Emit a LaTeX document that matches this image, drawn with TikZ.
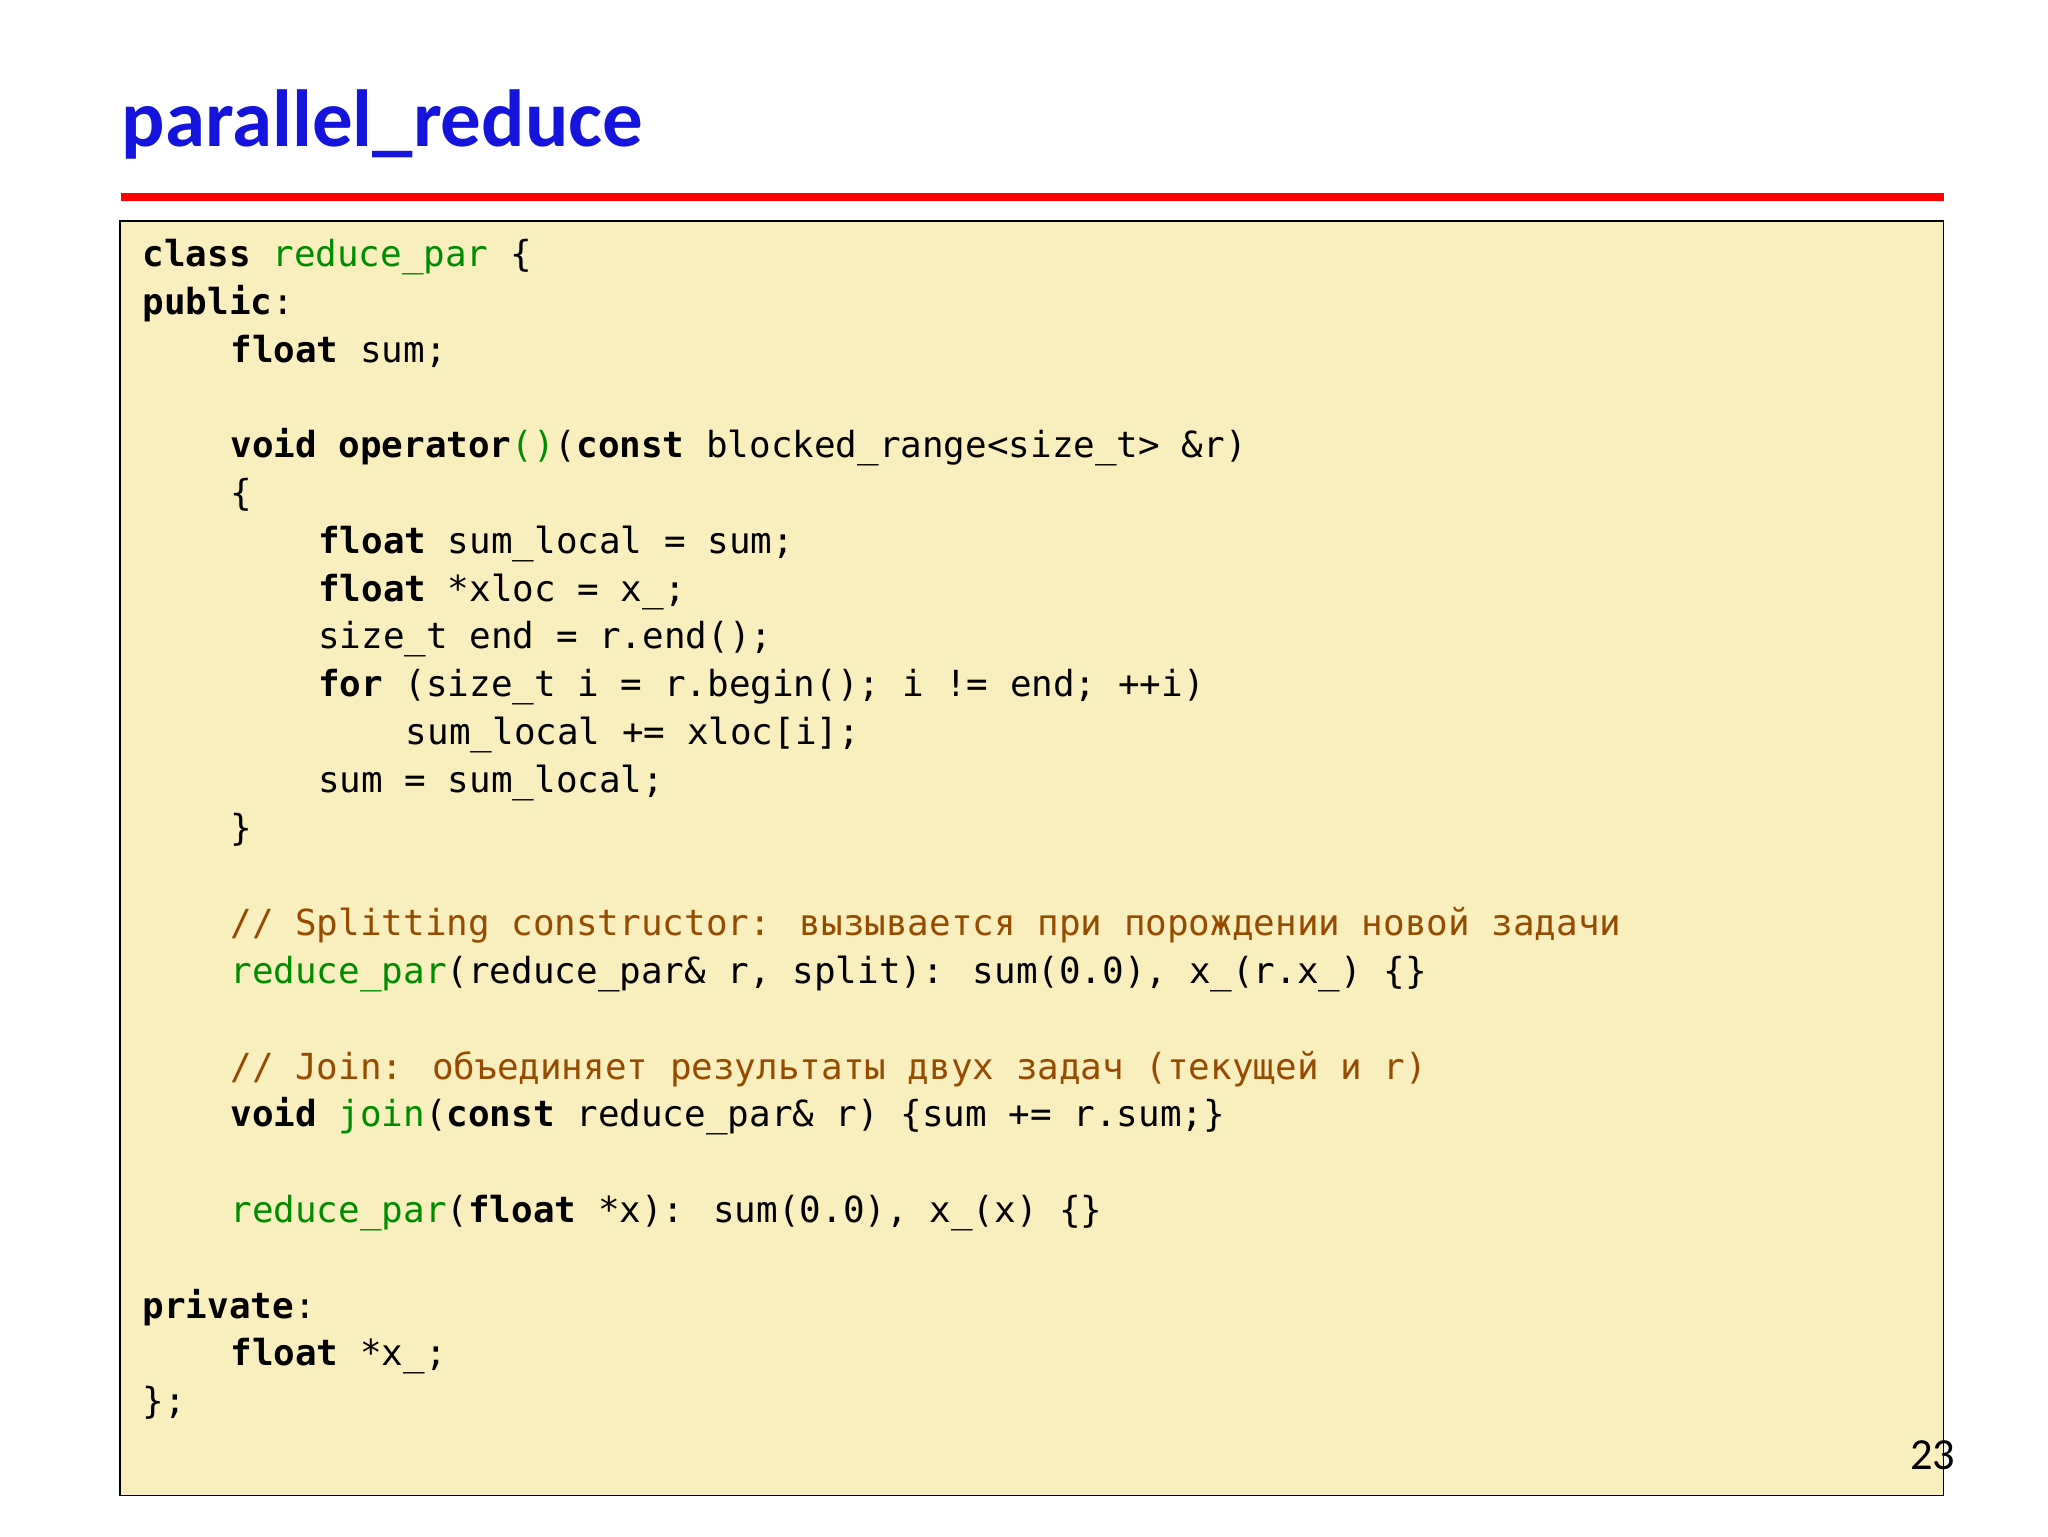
\documentclass[tikz,border=0pt]{standalone}
\usepackage{fontspec}
\setmainfont{Carlito}
\newfontfamily\codefont{DejaVu Sans Mono}
\definecolor{titleblue}{RGB}{20,20,220}
\definecolor{boxfill}{RGB}{248,238,190}
\definecolor{grn}{RGB}{0,140,0}
\definecolor{cmt}{RGB}{150,75,0}
\newcommand\kw[1]{\textbf{#1}}
\newcommand\gr[1]{\textcolor{grn}{#1}}
\newcommand\cm[1]{\textcolor{cmt}{#1}}
\tikzset{code/.style={anchor=base west,inner sep=0,font=\codefont\fontsize{27.5}{30}\selectfont}}
\newcommand\codeline[3]{\node[code] (l#1) at ({109+16.8*#2},{204+36.6*#1}) {#3};}
\begin{document}
\begin{tikzpicture}[x=1pt,y=-1pt]
\useasboundingbox (0,0) rectangle (1568,1176);
\node[anchor=base west,inner sep=0,text=titleblue,font=\bfseries\fontsize{62}{70}\selectfont] (title) at (93,112) {parallel\_reduce};
\fill[red] (93,148) rectangle (1488,154);
\draw[fill=boxfill,line width=1.2] (92,169) rectangle (1488,1145);
\codeline{0}{0}{\kw{class} \gr{reduce\_par} \{}
\codeline{1}{0}{\kw{public}:}
\codeline{2}{4}{\kw{float} sum;}
\codeline{4}{4}{\kw{void} \kw{operator}\gr{()}(\kw{const} blocked\_range<size\_t> \&r)}
\codeline{5}{4}{\{}
\codeline{6}{8}{\kw{float} sum\_local = sum;}
\codeline{7}{8}{\kw{float} *xloc = x\_;}
\codeline{8}{8}{size\_t end = r.end();}
\codeline{9}{8}{\kw{for} (size\_t i = r.begin(); i != end; ++i)}
\codeline{10}{12}{sum\_local += xloc[i];}
\codeline{11}{8}{sum = sum\_local;}
\codeline{12}{4}{\}}
\codeline{14}{4}{\cm{// Splitting constructor: вызывается при порождении новой задачи}}
\codeline{15}{4}{\gr{reduce\_par}(reduce\_par\& r, split): sum(0.0), x\_(r.x\_) \{\}}
\codeline{17}{4}{\cm{// Join: объединяет результаты двух задач (текущей и r)}}
\codeline{18}{4}{\kw{void} \gr{join}(\kw{const} reduce\_par\& r) \{sum += r.sum;\}}
\codeline{20}{4}{\gr{reduce\_par}(\kw{float} *x): sum(0.0), x\_(x) \{\}}
\codeline{22}{0}{\kw{private}:}
\codeline{23}{4}{\kw{float} *x\_;}
\codeline{24}{0}{\};}
\node[anchor=base east,inner sep=0,font=\fontsize{34}{40}\selectfont] (pg) at (1497,1125) {23};
\end{tikzpicture}
\end{document}
